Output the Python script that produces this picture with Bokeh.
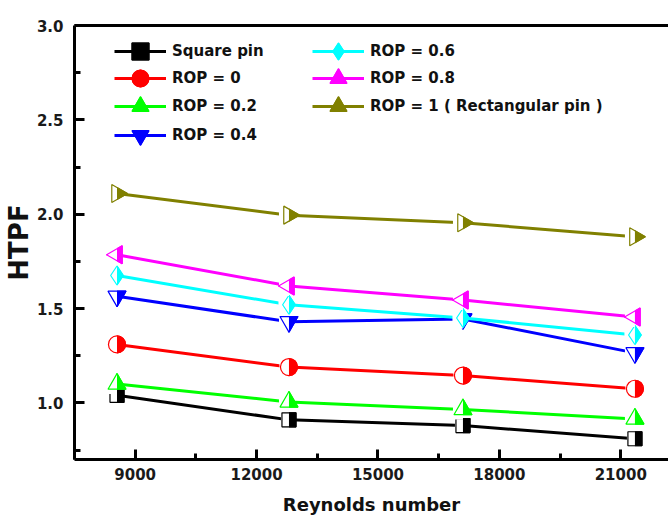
import numpy as np
from bokeh.plotting import figure
from bokeh.models import (Range1d, FixedTicker, LinearAxis, Legend, LegendItem,
                          ColumnDataSource, PrintfTickFormatter)
from bokeh.transform import dodge
from bokeh.embed import file_html
from bokeh.resources import INLINE

# ---------------- data ----------------
reynolds = [8550, 12800, 17100, 21350]
square_pin = [1.04, 0.91, 0.88, 0.81]
rop_0 = [1.31, 1.19, 1.145, 1.075]
rop_02 = [1.10, 1.005, 0.965, 0.915]
rop_04 = [1.565, 1.43, 1.445, 1.265]
rop_06 = [1.675, 1.52, 1.45, 1.36]
rop_08 = [1.785, 1.62, 1.545, 1.455]
rop_1 = [2.11, 1.995, 1.955, 1.88]

series_names = ["Square pin", "ROP = 0", "ROP = 0.2", "ROP = 0.4",
                "ROP = 0.6", "ROP = 0.8", "ROP = 1 ( Rectangular pin )"]
series_vals = [square_pin, rop_0, rop_02, rop_04, rop_06, rop_08, rop_1]
colors = ["#000000", "#FF0000", "#00FF00", "#0000FF", "#00FFFF", "#FF00FF", "#808000"]
markers = ["square", "circle", "triangle", "inverted_triangle", "diamond", "triangle", "triangle"]
angles = [0, 0, 0, 0, 0, np.pi / 2, -np.pi / 2]
sizes = [14, 17, 18, 18, 19, 18, 18]

x_ticks = [9000, 12000, 15000, 18000, 21000]
x_minor = [7500, 10500, 13500, 16500, 19500]
y_ticks = [1.0, 1.5, 2.0, 2.5, 3.0]
y_minor = [0.75, 1.25, 1.75, 2.25, 2.75]

# ---------------- layout ----------------
W, H = 668, 517
LEFT, TOP, BOTTOM = 72, 25, 57
X0, X1 = 7500, 22180
frame_w = W - LEFT
units_per_px = (X1 - X0) / frame_w

FONT = "DejaVu Sans"

p = figure(width=W, height=H, output_backend="svg", toolbar_location=None,
           x_range=Range1d(X0, X1), y_range=Range1d(0.7, 3.0),
           min_border_left=LEFT, min_border_right=0, min_border_top=TOP,
           min_border_bottom=BOTTOM, x_axis_label="Reynolds number",
           y_axis_label="HTPF")
p.outline_line_color = None
p.xgrid.visible = False
p.ygrid.visible = False
p.background_fill_color = "white"

for ax, maj, mnr in [(p.xaxis[0], x_ticks, x_minor), (p.yaxis[0], y_ticks, y_minor)]:
    ax.ticker = FixedTicker(ticks=maj, minor_ticks=mnr)
    ax.axis_line_width = 3
    ax.major_tick_line_width = 3
    ax.minor_tick_line_width = 3
    ax.major_tick_in = 10
    ax.major_tick_out = 0
    ax.minor_tick_in = 6
    ax.minor_tick_out = 0
    ax.major_label_text_font = FONT
    ax.major_label_text_font_style = "bold"
    ax.major_label_text_font_size = "15px"
    ax.major_label_text_color = "#1a1a1a"
    ax.axis_label_text_font = FONT
    ax.axis_label_text_font_style = "bold"
    ax.axis_label_text_color = "#111111"

p.xaxis.major_label_standoff = 8
p.xaxis.axis_label_text_font_size = "18px"
p.xaxis.axis_label_standoff = 11
p.yaxis.major_label_standoff = 11
p.yaxis.axis_label_text_font_size = "26px"
p.yaxis.axis_label_standoff = 0
p.yaxis.formatter = PrintfTickFormatter(format="%.1f")

top_axis = LinearAxis(ticker=FixedTicker(ticks=[]), axis_line_width=3,
                      major_label_text_font_size="0px", axis_label=None)
p.add_layout(top_axis, "above")

items = []
src = ColumnDataSource(dict(x=reynolds))
for name, vals in zip(series_names, series_vals):
    src.data[name] = vals
for name, col, mk, ang, sz in zip(series_names, colors, markers, angles, sizes):
    ln = p.line("x", name, source=src, line_color=col, line_width=3)
    filled = p.scatter("x", name, source=src, marker=mk, angle=ang, size=sz,
                       fill_color=col, line_color=col, line_width=1.2)
    half_w = sz / 2.0 + 1
    p.rect(x=dodge("x", -half_w / 2.0 * units_per_px, range=p.x_range), y=name,
           source=src, width=half_w, height=sz + 2, width_units="screen",
           height_units="screen", fill_color="white", line_color=None)
    outline = p.scatter("x", name, source=src, marker=mk, angle=ang, size=sz,
                        fill_color=None, line_color=col, line_width=1.2)
    items.append(LegendItem(label=name, renderers=[ln, filled, outline]))

# one legend per row so that the key markers can be large while rows stay close
leg_kw = dict(glyph_width=52, glyph_height=42, spacing=0, label_standoff=6,
              padding=0, margin=0, border_line_color=None, background_fill_alpha=0,
              label_text_font=FONT, label_text_font_style="bold",
              label_text_font_size="15px", label_text_color="#111111",
              label_height=20)
legend_spots = [(40, 387), (40, 360), (40, 332), (40, 303),
                (238, 387), (238, 360), (238, 332)]
for item, loc in zip(items, legend_spots):
    p.add_layout(Legend(items=[item], location=loc, **leg_kw), "center")

open("out.html", "w").write(file_html(p, INLINE))
